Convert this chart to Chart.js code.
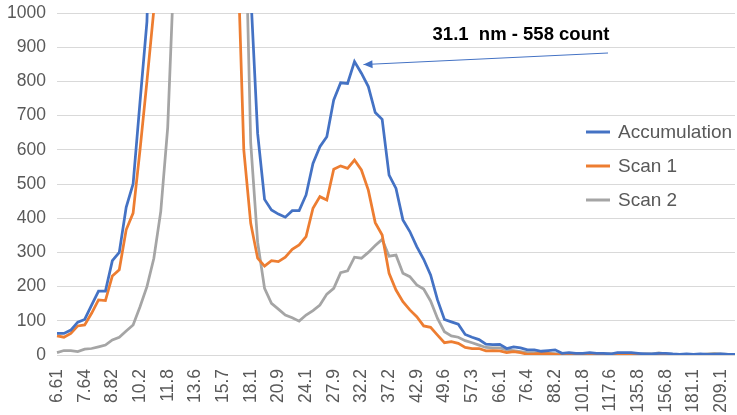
<!DOCTYPE html>
<html>
<head>
<meta charset="utf-8">
<script src="https://cdn.jsdelivr.net/npm/chart.js@4.4.0/dist/chart.umd.min.js"></script>
<style>
  html, body { margin: 0; padding: 0; background: #ffffff; }
  #wrap { width: 737px; height: 415px; }
</style>
</head>
<body>
<div id="wrap"><canvas id="chart" width="737" height="415"></canvas></div>
<script>
// Diamètres (nm) - 64 canaux par décade
const diameters = [
  '6.61', '6.85', '7.10', '7.37', '7.64', '7.91', '8.20', '8.51', '8.82', '9.14',
  '9.47', '9.82', '10.2', '10.6', '10.9', '11.3', '11.8', '12.2', '12.6', '13.1',
  '13.6', '14.1', '14.6', '15.1', '15.7', '16.3', '16.8', '17.5', '18.1', '18.8',
  '19.5', '20.2', '20.9', '21.7', '22.5', '23.3', '24.1', '25.0', '25.9', '26.9',
  '27.9', '28.9', '30.0', '31.1', '32.2', '33.4', '34.6', '35.9', '37.2', '38.5',
  '40.0', '41.4', '42.9', '44.5', '46.1', '47.8', '49.6', '51.4', '53.3', '55.2',
  '57.3', '59.4', '61.5', '63.8', '66.1', '68.5', '71.0', '73.7', '76.4', '79.1',
  '82.0', '85.1', '88.2', '91.4', '94.7', '98.2', '101.8', '105.5', '109.4', '113.4',
  '117.6', '121.9', '126.3', '131.0', '135.8', '140.7', '145.9', '151.2', '156.8', '162.5',
  '168.5', '174.7', '181.1', '187.7', '194.6', '201.7', '209.1', '216.7', '224.7'
];

const accumulation = [
  63, 63, 73, 96, 104, 146, 187, 187, 276, 300,
  432, 500, 740, 975, 1700, 2500, 3300, 4000, 4500, 4700,
  4600, 4300, 3800, 3200, 2600, 2000, 1600, 1300, 1060, 648,
  455, 424, 412, 403, 422, 422, 468, 560, 609, 638,
  746, 796, 794, 858, 824, 785, 709, 689, 526, 487,
  395, 361, 317, 280, 234, 161, 104, 97, 90, 60,
  52, 45, 32, 30, 31, 19, 24, 21, 15, 15,
  11, 13, 15, 5, 7, 5, 5, 7, 5, 5,
  3, 7, 7, 7, 5, 3, 3, 5, 5, 3,
  2, 3, 2, 3, 2, 2, 3, 2, 2
];

const scan1 = [
  56, 52, 63, 85, 88, 122, 161, 159, 231, 249,
  366, 415, 600, 800, 1010, 1600, 2300, 3000, 3500, 3800,
  3900, 3700, 3300, 2800, 2200, 1700, 1250, 600, 385, 283,
  260, 276, 273, 286, 309, 322, 346, 429, 463, 453,
  543, 553, 546, 570, 541, 482, 387, 351, 239, 190,
  156, 132, 112, 85, 81, 58, 36, 39, 34, 22,
  19, 19, 12, 13, 12, 7, 10, 7, 2, 3,
  5, 4, 2, 0, 3, 1, 0, 2, 1, 0,
  2, 1, 3, 2, 0, 1, 2, 0, 1, 0,
  2, 1, 0, 1, 0, 1, 2, 0, 1
];

const scan2 = [
  7, 13, 13, 10, 17, 19, 24, 29, 44, 52,
  70, 88, 141, 200, 283, 420, 665, 1175, 1700, 2300,
  2800, 3000, 2900, 2600, 2200, 1900, 1700, 1475, 620, 330,
  195, 151, 134, 117, 109, 99, 117, 130, 146, 178,
  195, 241, 246, 286, 283, 300, 320, 338, 289, 292,
  239, 229, 205, 193, 158, 107, 68, 56, 52, 42,
  36, 29, 22, 21, 21, 15, 13, 10, 7, 7,
  5, 5, 4, 3, 4, 3, 5, 3, 2, 3,
  4, 2, 3, 3, 2, 4, 3, 6, 3, 2,
  2, 1, 2, 1, 3, 5, 3, 2, 2
];

const yTicks = [0, 100, 200, 300, 400, 500, 600, 700, 800, 900, 1000];
const peakLabel = '31.1';
const peakText = '31.1  nm - 558 count';

const textColor = '#595959';
const fontFamily = '"Liberation Sans", Arial, sans-serif';

// Légende dessinée dans la zone du graphique, à droite
const insideLegend = {
  id: 'insideLegend',
  afterDraw(chart) {
    const { ctx, chartArea } = chart;
    const x0 = chartArea.right - 149;
    let y = chartArea.top + 119;
    ctx.save();
    ctx.font = '19px ' + fontFamily;
    ctx.textBaseline = 'middle';
    ctx.textAlign = 'left';
    chart.data.datasets.forEach(ds => {
      ctx.strokeStyle = ds.borderColor;
      ctx.lineWidth = 3;
      ctx.beginPath();
      ctx.moveTo(x0, y);
      ctx.lineTo(x0 + 24, y);
      ctx.stroke();
      ctx.fillStyle = textColor;
      ctx.fillText(ds.label, x0 + 32, y + 1);
      y += 34;
    });
    ctx.restore();
  }
};

// Annotation du pic avec une flèche
const peakNote = {
  id: 'peakNote',
  afterDraw(chart) {
    const { ctx, chartArea, scales } = chart;
    const idx = diameters.indexOf(peakLabel);
    const px = scales.x.getPixelForValue(idx);
    const py = scales.y.getPixelForValue(accumulation[idx]);
    const tipX = px + 9, tipY = py + 3;
    const startX = chartArea.left + 551, startY = chartArea.top + 40;

    ctx.save();
    ctx.font = 'bold 18.5px ' + fontFamily;
    ctx.fillStyle = '#000000';
    ctx.textAlign = 'center';
    ctx.textBaseline = 'middle';
    ctx.fillText(peakText, chartArea.left + 464, chartArea.top + 22);

    ctx.strokeStyle = '#4472C4';
    ctx.fillStyle = '#4472C4';
    ctx.lineWidth = 1;
    ctx.beginPath();
    ctx.moveTo(startX, startY);
    ctx.lineTo(tipX, tipY);
    ctx.stroke();

    const ang = Math.atan2(tipY - startY, tipX - startX);
    const len = 9, half = 4;
    ctx.beginPath();
    ctx.moveTo(tipX, tipY);
    ctx.lineTo(tipX - len * Math.cos(ang) + half * Math.sin(ang), tipY - len * Math.sin(ang) - half * Math.cos(ang));
    ctx.lineTo(tipX - len * Math.cos(ang) - half * Math.sin(ang), tipY - len * Math.sin(ang) + half * Math.cos(ang));
    ctx.closePath();
    ctx.fill();
    ctx.restore();
  }
};

function makeSeries(label, data, color) {
  return {
    label: label,
    data: data,
    borderColor: color,
    backgroundColor: color,
    borderWidth: 2.75,
    pointRadius: 0,
    tension: 0,
    fill: false
  };
}

new Chart(document.getElementById('chart').getContext('2d'), {
  type: 'line',
  data: {
    labels: diameters,
    datasets: [
      makeSeries('Accumulation', accumulation, '#4472C4'),
      makeSeries('Scan 1', scan1, '#ED7D31'),
      makeSeries('Scan 2', scan2, '#A5A5A5')
    ]
  },
  options: {
    responsive: false,
    animation: false,
    layout: { padding: { top: 13, right: 2, left: 0, bottom: 0 } },
    plugins: {
      legend: { display: false },
      tooltip: { enabled: false }
    },
    scales: {
      x: {
        grid: { display: false, drawTicks: false },
        border: { display: false },
        afterFit(scale) {
          scale.height = 60;
          scale.paddingLeft = 0;
          scale.paddingRight = 0;
        },
        ticks: {
          autoSkip: false,
          maxRotation: 90,
          minRotation: 90,
          padding: 14,
          color: textColor,
          font: { size: 17.5, family: fontFamily },
          callback: (val, i) => (i % 4 === 0 ? diameters[i] : '')
        }
      },
      y: {
        min: yTicks[0],
        max: yTicks[yTicks.length - 1],
        afterBuildTicks(scale) { scale.ticks = yTicks.map(v => ({ value: v })); },
        afterFit(scale) {
          scale.width = 57;
          scale.paddingTop = 0;
          scale.paddingBottom = 0;
        },
        grid: { color: '#D9D9D9', lineWidth: 1, drawTicks: false },
        border: { display: false },
        ticks: {
          padding: 11,
          color: textColor,
          font: { size: 17.5, family: fontFamily },
          callback: v => String(v)
        }
      }
    }
  },
  plugins: [insideLegend, peakNote]
});
</script>
</body>
</html>
